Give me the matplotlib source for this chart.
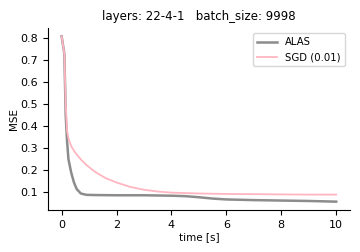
import numpy as np
import matplotlib
matplotlib.use("Agg")
import matplotlib.pyplot as plt

# values
t_alas = [0, 0.1, 0.15, 0.2, 0.25, 0.35, 0.45, 0.55, 0.7, 0.9, 1.2, 2, 3, 4, 4.5, 5, 5.5, 6, 7, 8, 9, 10]
mse_alas = [0.81, 0.73, 0.45, 0.33, 0.25, 0.19, 0.145, 0.115, 0.095, 0.089, 0.088, 0.087, 0.087, 0.085, 0.083, 0.078, 0.072, 0.068, 0.065, 0.063, 0.061, 0.058]
t_sgd = [0, 0.1, 0.15, 0.2, 0.25, 0.35, 0.5, 0.7, 0.9, 1.2, 1.6, 2, 2.5, 3, 3.5, 4, 5, 6, 7, 8, 9, 10]
mse_sgd = [0.81, 0.73, 0.5, 0.38, 0.345, 0.31, 0.28, 0.25, 0.225, 0.195, 0.165, 0.145, 0.125, 0.112, 0.104, 0.099, 0.095, 0.093, 0.092, 0.091, 0.09, 0.09]

fig = plt.figure(figsize=(3.6, 2.52), dpi=100)
ax = fig.add_axes([0.133, 0.167, 0.839, 0.722])
ax.plot(t_alas, mse_alas, c="#8c8c8c", lw=1.8, label="ALAS")
ax.plot(t_sgd, mse_sgd, c="#ffb6c1", lw=1.3, label="SGD (0.01)")
ax.set_xticks([0, 2, 4, 6, 8, 10])
ax.set_yticks([0.1, 0.2, 0.3, 0.4, 0.5, 0.6, 0.7, 0.8])
ax.tick_params(labelsize=8, length=3.5)
ax.set_xlabel("time [s]", fontsize=7.5, labelpad=2)
ax.set_ylabel("MSE", fontsize=7.5, labelpad=1)
ax.set_title("layers: 22-4-1   batch_size: 9998", fontsize=8.5)
for s in ("top", "right"):
    ax.spines[s].set_visible(False)
ax.legend(fontsize=7.3, loc="upper right")
fig.savefig("out.png", dpi=100)
